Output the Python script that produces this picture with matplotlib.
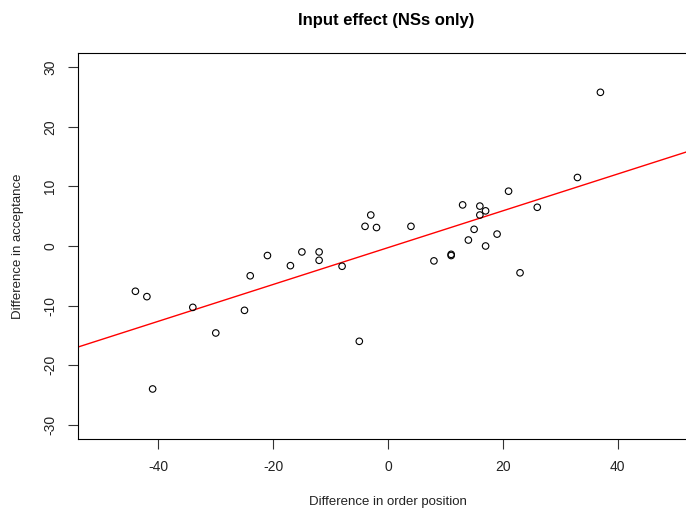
import numpy as np
import matplotlib
matplotlib.use("Agg")
import matplotlib.pyplot as plt

# Données
order_diff = [-44, -42, -41, -34, -30, -25, -24, -21, -17, -15, -12, -12, -8, -5,
              -4, -3, -2, 4, 8, 11, 11, 13, 14, 15, 16, 16, 17, 17, 19, 21, 23,
              26, 33, 37]
accept_diff = [-7.6, -8.5, -24, -10.3, -14.6, -10.8, -5, -1.6, -3.3, -1, -1, -2.4,
               -3.4, -16, 3.3, 5.2, 3.1, 3.3, -2.5, -1.4, -1.6, 6.9, 1.0, 2.8, 6.7,
               5.2, 5.9, 0, 2.0, 9.2, -4.5, 6.5, 11.5, 25.8]
x_ticks = [-40, -20, 0, 20, 40]
y_ticks = [-30, -20, -10, 0, 10, 20, 30]

plt.rcParams['font.family'] = ['Liberation Sans', 'DejaVu Sans']
plt.rcParams['axes.unicode_minus'] = False

W, H = 686, 511
fig = plt.figure(figsize=(W / 100, H / 100), dpi=100)
ax = fig.add_axes([78 / W, (H - 439) / H, 620 / W, 386 / H])

ax.scatter(order_diff, accept_diff, s=22, facecolors='none', edgecolors='black',
           linewidths=0.8, zorder=3)

# Droite de régression
slope, intercept = np.polyfit(order_diff, accept_diff, 1)
xs = np.array([-60, 60])
ax.plot(xs, intercept + slope * xs, color='red', lw=1)

ax.set_xlim(-54, 54)
ax.set_ylim(-32.4, 32.4)
ax.set_xticks(x_ticks)
ax.set_yticks(y_ticks)
ax.tick_params(direction='out', length=7, width=0.8, labelsize=10, colors='#333333',
               labelcolor='#222222', pad=8)
plt.setp(ax.get_yticklabels(), rotation=90, va='center')
for s in ax.spines.values():
    s.set_linewidth(0.8)

ax.set_xlabel("Difference in order position", fontsize=9.5, labelpad=16,
              color='#222222')
ax.set_ylabel("Difference in acceptance", fontsize=9.5, labelpad=14,
              color='#222222')
fig.text(386 / W, 1 - 20 / H, "Input effect (NSs only)", ha='center', va='center',
         fontsize=12, fontweight='bold')

fig.savefig("out.png", dpi=100)
